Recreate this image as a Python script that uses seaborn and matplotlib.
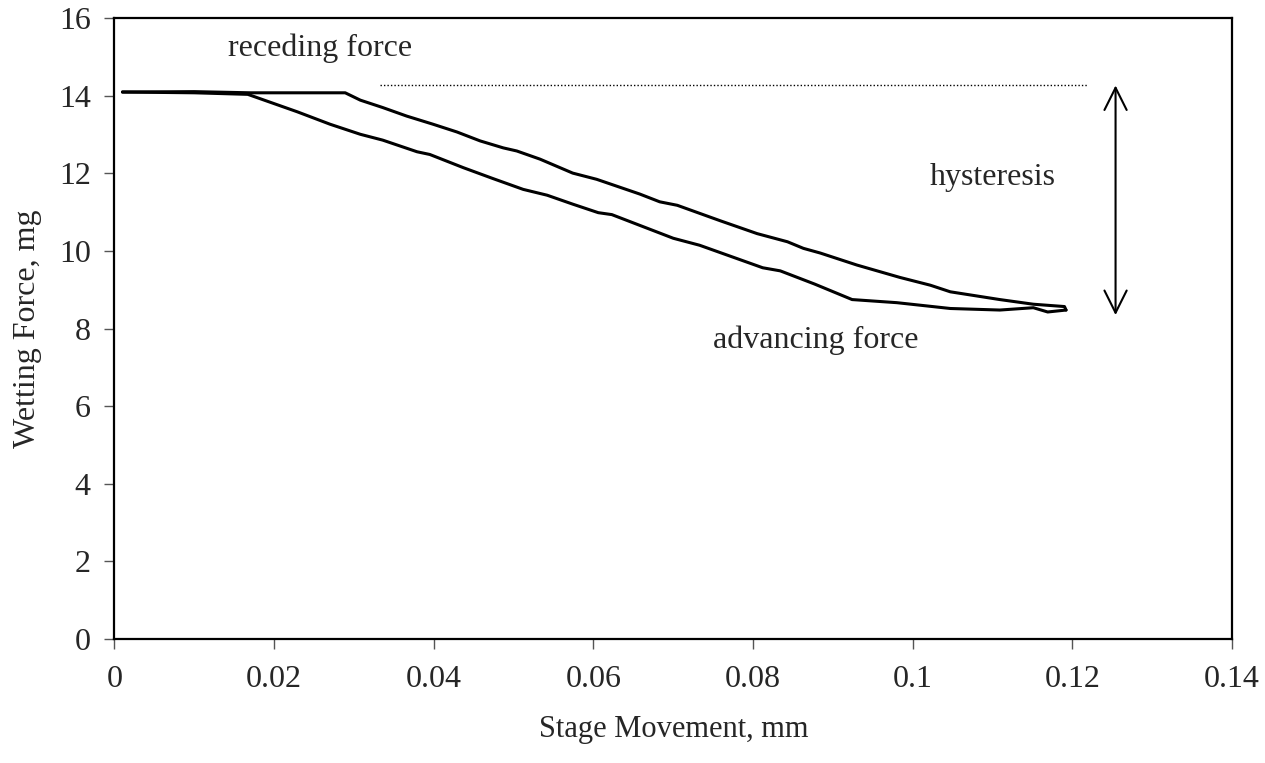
import matplotlib
matplotlib.use("Agg")
import matplotlib.pyplot as plt
import seaborn as sns
import pandas as pd

# Advancing force (lower branch), stage moving forward
adv_x = [0.001, 0.010, 0.0167, 0.0229, 0.027, 0.0308, 0.0336, 0.0379, 0.0395, 0.0437,
         0.0474, 0.0512, 0.0542, 0.0574, 0.0606, 0.0623, 0.0700, 0.0733, 0.0812, 0.0834,
         0.0877, 0.0924, 0.0980, 0.1047, 0.1109, 0.1151, 0.1169, 0.1192]
adv_y = [14.10, 14.08, 14.04, 13.59, 13.27, 13.01, 12.86, 12.56, 12.49, 12.15,
         11.87, 11.59, 11.44, 11.21, 10.99, 10.94, 10.33, 10.15, 9.57, 9.49,
         9.15, 8.75, 8.67, 8.52, 8.48, 8.54, 8.43, 8.48]

# Receding force (upper branch), stage moving back
rec_x = [0.1192, 0.1190, 0.1151, 0.1109, 0.1047, 0.1022, 0.0984, 0.0930, 0.0884, 0.0863,
         0.0843, 0.0805, 0.0759, 0.0705, 0.0683, 0.0658, 0.0604, 0.0574, 0.0533, 0.0504,
         0.0487, 0.0458, 0.0429, 0.0399, 0.0366, 0.0336, 0.0308, 0.0289, 0.017, 0.010, 0.001]
rec_y = [8.48, 8.57, 8.63, 8.75, 8.95, 9.12, 9.32, 9.64, 9.95, 10.07,
         10.24, 10.45, 10.78, 11.18, 11.27, 11.47, 11.85, 12.01, 12.37, 12.58,
         12.66, 12.84, 13.07, 13.27, 13.48, 13.70, 13.89, 14.08, 14.08, 14.11, 14.10]

# hysteresis markers
ref_line_x = [0.0333, 0.122]
ref_line_y = 14.27
arrow_x = 0.1254
arrow_top = 14.27
arrow_bottom = 8.35

sns.set_style("ticks")
plt.rcParams['font.family'] = ['Liberation Serif', 'DejaVu Serif']

df_adv = pd.DataFrame({'x': adv_x, 'y': adv_y})
df_rec = pd.DataFrame({'x': rec_x, 'y': rec_y})

fig = plt.figure(figsize=(12.65, 7.63), dpi=100)
ax = fig.add_axes([0.0905, 0.1625, 0.8835, 0.8135])

sns.lineplot(data=df_adv, x='x', y='y', sort=False, estimator=None, color='black', lw=2.2, ax=ax)
sns.lineplot(data=df_rec, x='x', y='y', sort=False, estimator=None, color='black', lw=2.2, ax=ax)

ax.plot(ref_line_x, [ref_line_y, ref_line_y], color='black', lw=1, ls=(0, (1, 1.5)))
ax.annotate('', xy=(arrow_x, arrow_top), xytext=(arrow_x, arrow_bottom),
            arrowprops=dict(arrowstyle='<->', color='black', lw=1.5,
                            mutation_scale=40, shrinkA=0, shrinkB=0))

fs = 23
ax.text(0.0142, 15.23, 'receding force', fontsize=fs, va='center', ha='left')
ax.text(0.110, 11.9, 'hysteresis', fontsize=fs, va='center', ha='center')
ax.text(0.0878, 7.7, 'advancing force', fontsize=fs, va='center', ha='center')

ax.set_xlim(0, 0.14)
ax.set_ylim(0, 16)
ax.set_xticks([0, 0.02, 0.04, 0.06, 0.08, 0.1, 0.12, 0.14])
ax.set_xticklabels(['0', '0.02', '0.04', '0.06', '0.08', '0.1', '0.12', '0.14'])
ax.set_yticks(range(0, 17, 2))
ax.tick_params(axis='both', direction='out', length=7, width=1, labelsize=fs,
               color='#555555')
ax.tick_params(axis='x', pad=12)
ax.tick_params(axis='y', pad=10)
ax.set_xlabel('Stage Movement, mm', fontsize=22, labelpad=15)
ax.set_ylabel('Wetting Force, mg', fontsize=fs, labelpad=12)

for s in ax.spines.values():
    s.set_visible(True)
    s.set_color('black')
    s.set_linewidth(1.6)

fig.savefig('out.png', dpi=100)
